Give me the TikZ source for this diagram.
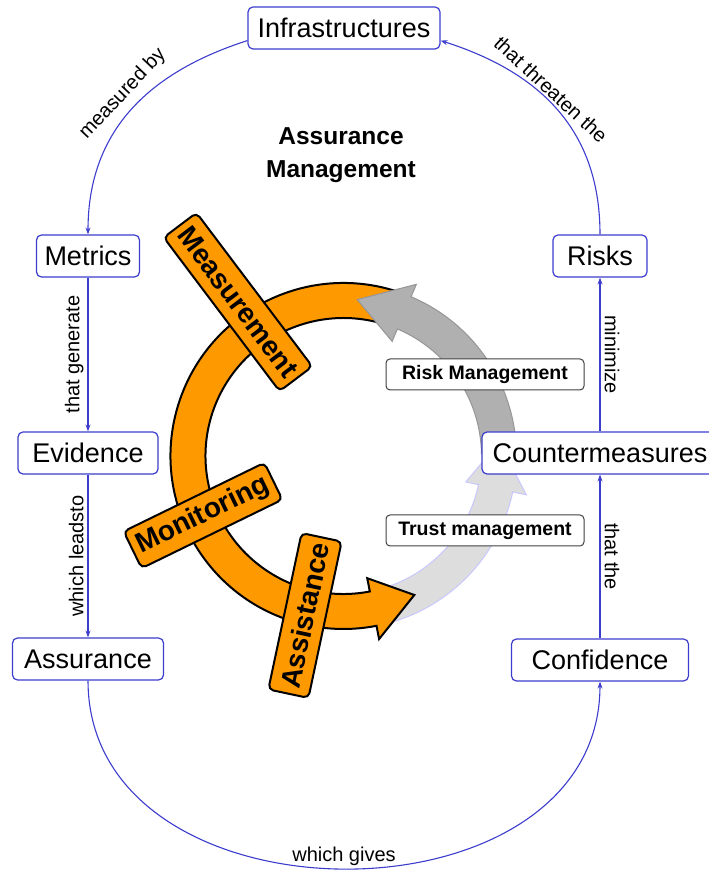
\documentclass[tikz,border=0pt]{standalone}
\usepackage{fontspec}
\setmainfont{Liberation Sans}
\usetikzlibrary{arrows.meta,calc}
\definecolor{edgeblue}{RGB}{60,60,205}
\definecolor{ringorange}{RGB}{255,153,0}
\definecolor{riskgray}{RGB}{176,176,176}
\definecolor{riskedge}{RGB}{150,150,150}
\definecolor{trustgray}{RGB}{221,221,221}
\definecolor{trustedge}{RGB}{200,200,255}
\begin{document}
\begin{tikzpicture}[x=1pt,y=1pt,
  concept/.style={draw=edgeblue, line width=1.2pt, fill=white, rounded corners=5pt,
    font=\fontsize{27}{30}\selectfont, minimum height=42pt, inner sep=0pt},
  procbox/.style={draw=black!75, line width=1pt, fill=white, rounded corners=4pt,
    font=\fontsize{19.5}{22}\bfseries, minimum width=198pt, minimum height=31pt, inner sep=0pt},
  phase/.style={draw=black, line width=2pt, fill=ringorange, rounded corners=5pt,
    font=\fontsize{28}{30}\bfseries, minimum height=41pt, inner xsep=6pt, inner ysep=0pt},
  link/.style={draw=edgeblue, line width=1.1pt, -{Stealth[length=7pt,width=5pt]}},
  lab/.style={font=\fontsize{20}{22}\selectfont, inner sep=2pt}]
\useasboundingbox (0,0) rectangle (709,870);
\coordinate (C) at (343.5,414);

% trust management arc (light)
\filldraw[fill=trustgray, draw=trustedge, line width=1pt]
  ($(C)+(-75:173pt)$) arc[start angle=-75, end angle=-12, radius=173pt]
  -- ($(C)+(-12:187pt)$) -- ($(C)+(5:156pt)$) -- ($(C)+(-12:125pt)$)
  -- ($(C)+(-12:138pt)$) arc[start angle=-12, end angle=-75, radius=138pt] -- cycle;

% orange cycle
\filldraw[fill=ringorange, draw=black, line width=2pt, line join=miter]
  ($(C)+(72:173pt)$) arc[start angle=72, end angle=281, radius=173pt]
  -- ($(C)+(281:186.5pt)$) -- ($(C)+(297:156pt)$) -- ($(C)+(281:124.5pt)$)
  -- ($(C)+(281:138pt)$) arc[start angle=281, end angle=72, radius=138pt] -- cycle;

% risk management arc (gray)
\filldraw[fill=riskgray, draw=riskedge, line width=1pt]
  ($(C)+(1:173pt)$) arc[start angle=1, end angle=67, radius=173pt]
  -- ($(C)+(67:186.5pt)$) -- ($(C)+(85:157pt)$) -- ($(C)+(67:124.5pt)$)
  -- ($(C)+(67:138pt)$) arc[start angle=67, end angle=1, radius=138pt] -- cycle;

% phase labels
\node[phase, rotate=-53] (meas) at (238,568) {Measurement};
\node[phase, rotate=26] (moni) at (203,354.5) {Monitoring};
\node[phase, rotate=78] (assi) at (305,254.5) {Assistance};

% process boxes
\node[procbox] (riskm) at (485,495.5) {Risk Management};
\node[procbox] (trustm) at (485,339.5) {Trust management};

% title
\node[font=\fontsize{24.5}{33}\bfseries, align=center] (title) at (341,715) {Assurance\\Management};

% concepts
\node[concept, minimum width=192pt] (infra) at (344,842) {Infrastructures};
\node[concept, minimum width=103pt] (metrics) at (88,614) {Metrics};
\node[concept, minimum width=140pt] (evidence) at (88,417) {Evidence};
\node[concept, minimum width=151pt] (assurance) at (88,211) {Assurance};
\node[concept, minimum width=94pt] (risks) at (600,614) {Risks};
\node[concept, minimum width=236pt] (counter) at (600,417) {Countermeasures};
\node[concept, minimum width=177pt] (confidence) at (600,210) {Confidence};

% connectors
\draw[link] ([yshift=9pt]infra.south west) .. controls +(-109,-35) and +(0,95) .. (metrics.north)
  node[lab, pos=0.45, sloped, above=5pt] {measured by};
\draw[link] (metrics) -- node[lab, rotate=90, above=2pt] {that generate} (evidence);
\draw[link] (evidence) -- node[lab, rotate=90, above=2pt] {which leadsto} (assurance);
\draw[link] (assurance.south) .. controls +(0,-250) and +(0,-250) .. (confidence.south)
  node[lab, pos=0.5, above] {which gives};
\draw[link] (confidence) -- node[lab, rotate=-90, above=2pt] {that the} (counter);
\draw[link] (counter) -- node[lab, rotate=-90, above=2pt] {minimize} (risks);
\draw[link] (risks.north) .. controls +(0,95) and +(110,-35) .. ([yshift=9pt]infra.south east)
  node[lab, pos=0.6, sloped, above] {that threaten the};
\end{tikzpicture}
\end{document}
